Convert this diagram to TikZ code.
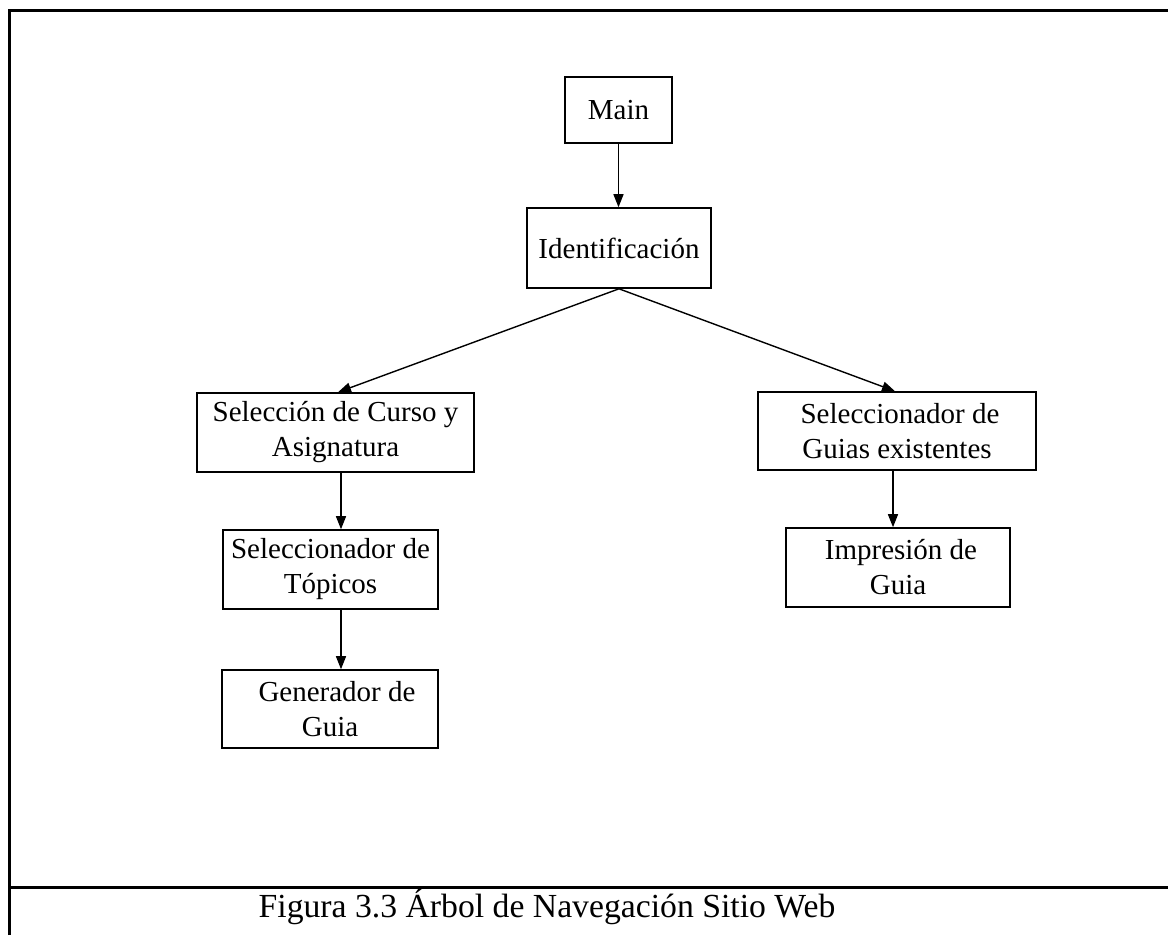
\documentclass[tikz,border=0pt]{standalone}
\usepackage{fontspec}
\setmainfont{Liberation Serif}
\usetikzlibrary{arrows.meta}

\tikzset{
  box/.style={draw=black, line width=1.6pt, rectangle, align=center, inner sep=0pt,
              font=\fontsize{29}{35}\selectfont},
  arr/.style={draw=black, line width=1.4pt, -{Triangle[length=13pt,width=10pt]}},
  frame/.style={draw=black, line width=3pt},
}

\begin{document}
\begin{tikzpicture}[x=1pt, y=-1pt]
  \useasboundingbox (0,0) rectangle (1168,935);
  \fill[white] (0,0) rectangle (1168,935);

  % outer frame and caption rule
  \draw[frame] (9,935) -- (9,10) -- (1168,10);
  \draw[frame] (9,887) -- (1168,887);

  % nodes of the navigation tree
  \node[box, minimum width=107pt, minimum height=66pt] (main)     at (618.5,110)  {Main};
  \node[box, minimum width=184pt, minimum height=80pt] (ident)    at (619,248)    {Identificación};
  \node[box, minimum width=277pt, minimum height=79pt] (selcurso) at (335.5,432.5) {Selección de Curso y\\Asignatura};
  \node[box, minimum width=215pt, minimum height=79pt] (seltop)   at (330.5,569.5) {Seleccionador de\\Tópicos};
  \node[box, minimum width=216pt, minimum height=78pt] (gen)      at (330,709)    {\hspace*{14pt}Generador de\\Guia};
  \node[box, minimum width=278pt, minimum height=78pt] (selguias) at (897,431)    {\hspace*{6pt}Seleccionador de\\Guias existentes};
  \node[box, minimum width=224pt, minimum height=79pt] (impr)     at (898,567.5)  {\hspace*{6pt}Impresión de\\Guia};

  % connector columns
  \coordinate (colL) at (341,0);
  \coordinate (colR) at (893,0);

  % connectors
  \draw[arr] (main.south) -- (ident.north -| main.south);
  \draw[arr] (ident.south) -- ([xshift=2.5pt]selcurso.north);
  \draw[arr] (ident.south) -- ([xshift=-2pt]selguias.north);
  \draw[arr] (selcurso.south -| colL) -- (seltop.north -| colL);
  \draw[arr] (seltop.south -| colL) -- (gen.north -| colL);
  \draw[arr] (selguias.south -| colR) -- (impr.north -| colR);

  % caption
  \node[anchor=base, inner sep=0pt, font=\fontsize{33.7}{40}\selectfont] (caption) at (547,917)
    {Figura 3.3 Árbol de Navegación Sitio Web};
\end{tikzpicture}
\end{document}
